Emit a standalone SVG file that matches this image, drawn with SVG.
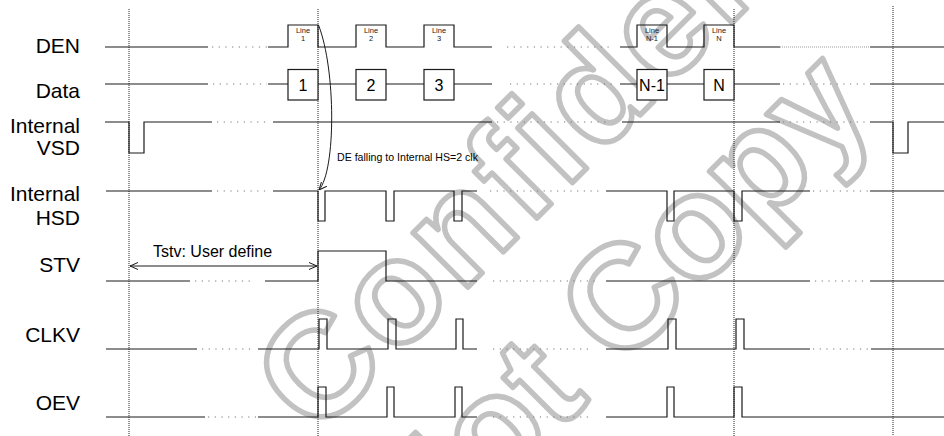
<svg xmlns="http://www.w3.org/2000/svg" width="944" height="436" viewBox="0 0 944 436">
<style>
.sig{fill:none;stroke:#1a1a1a;stroke-width:1.2}
.dot{fill:none;stroke:#777;stroke-width:1;stroke-dasharray:1.2 5.5}
.ddot{fill:none;stroke:#999;stroke-width:1;stroke-dasharray:1 1}
.vdot{fill:none;stroke:#222;stroke-width:1;stroke-dasharray:1 1}
.box{fill:#fff;stroke:#1a1a1a;stroke-width:1.2}
.lbl{font-family:"Liberation Sans",Arial,sans-serif;font-size:21px;text-anchor:end;fill:#000}
.tiny{font-family:"Liberation Sans",Arial,sans-serif;font-size:7.5px;text-anchor:middle;fill:#222}
.num{font-family:"Liberation Sans",Arial,sans-serif;font-size:16px;text-anchor:middle;fill:#000}
.note{font-family:"Liberation Sans",Arial,sans-serif;fill:#000}
.wm{font-family:"Liberation Sans",Arial,sans-serif;font-weight:bold;font-size:146px;fill:none;stroke:#c2c2c2;stroke-width:5.5;stroke-linejoin:round}
.conn{fill:none;stroke:#1a1a1a;stroke-width:1}
</style>
<defs>
<marker id="open" viewBox="0 0 8 8" refX="8" refY="4" markerWidth="8" markerHeight="8" markerUnits="userSpaceOnUse" orient="auto-start-reverse">
<path d="M0,0.5 L8,4 L0,7.5" fill="none" stroke="#1a1a1a" stroke-width="1"/>
</marker>
</defs>
<rect width="944" height="436" fill="#fff"/>
<g id="watermark">
<text class="wm" letter-spacing="5" transform="translate(316,439) rotate(-45)">Confidential</text>
<text class="wm" transform="translate(419,571) rotate(-45)">Not Copy</text>
</g>
<g id="gridlines">
<path class="vdot" d="M129,9V436 M318,9V436 M734,9V436 M893,6V436"/>
</g>
<g id="DEN">
<text class="lbl" x="80" y="53">DEN</text>
<path class="sig" d="M105,47H208 M268,47H288V25H318V47H356V25H386V47H424V25H454V47H492 M620,47H637V25H667V47H704V25H734V47H780 M870,47H944"/>
<path class="dot" d="M212,47H267 M507,47H613"/>
<path class="ddot" d="M780,47H870"/>
<text class="tiny" x="303" y="33">Line</text><text class="tiny" x="303" y="41">1</text>
<text class="tiny" x="371" y="33">Line</text><text class="tiny" x="371" y="41">2</text>
<text class="tiny" x="439" y="33">Line</text><text class="tiny" x="439" y="41">3</text>
<text class="tiny" x="652" y="33">Line</text><text class="tiny" x="652" y="41">N-1</text>
<text class="tiny" x="719" y="33">Line</text><text class="tiny" x="719" y="41">N</text>
</g>
<g id="Data">
<text class="lbl" x="80" y="98">Data</text>
<path class="sig" d="M105,84H208 M268,84H288 M318,84H356 M386,84H424 M454,84H492 M620,84H637 M667,84H704 M734,84H780 M870,84H944"/>
<path class="dot" d="M213,84H267 M510,84H613 M783,84H867"/>
<rect class="box" x="288" y="69.5" width="30" height="30.5"/>
<rect class="box" x="356" y="69.5" width="30" height="30.5"/>
<rect class="box" x="424" y="69.5" width="30" height="30.5"/>
<rect class="box" x="637" y="69.5" width="30" height="30.5"/>
<rect class="box" x="704" y="69.5" width="30" height="30.5"/>
<text class="num" x="303" y="90.5">1</text>
<text class="num" x="371" y="90.5">2</text>
<text class="num" x="439" y="90.5">3</text>
<text class="num" x="652" y="90.5">N-1</text>
<text class="num" x="719" y="90.5">N</text>
</g>
<g id="InternalVSD">
<text class="lbl" x="80" y="133">Internal</text>
<text class="lbl" x="80" y="155">VSD</text>
<path class="sig" d="M105,122H129V153H144V122H212 M273,122H492 M622,122H780 M870,122H893V153H908V122H944"/>
<path class="dot" d="M217,122H268 M497,122H607 M783,122H867"/>
</g>
<g id="InternalHSD">
<text class="lbl" x="80" y="201">Internal</text>
<text class="lbl" x="80" y="225">HSD</text>
<path class="sig" d="M106,191H212 M273,191H318V221H325V191H386V221H394V191H454V221H462V191H477 M606,191H667V221H674V191H734V221H742V191H810 M870,191H944"/>
<path class="dot" d="M217,191H270 M490,191H600 M813,191H868"/>
</g>
<g id="STV">
<text class="lbl" x="80" y="272">STV</text>
<path class="sig" d="M106,281H190 M265,281H318V251H386V281H477 M606,281H810 M870,281H944"/>
<path class="dot" d="M195,281H250 M493,281H600 M815,281H868"/>
</g>
<g id="CLKV">
<text class="lbl" x="80" y="342">CLKV</text>
<path class="sig" d="M106,349H197 M258,349H319V319H327V349H388V319H396V349H456V319H463V349H477 M606,349H668V319H676V349H736V319H744V349H810 M871,349H944"/>
<path class="dot" d="M202,349H255 M493,349H593 M813,349H868"/>
</g>
<g id="OEV">
<text class="lbl" x="80" y="410">OEV</text>
<path class="sig" d="M106,417H205 M258,417H318V387H326V417H387V387H394V417H455V387H462V417H477 M606,417H667V387H674V417H734V387H742V417H944"/>
<path class="dot" d="M208,417H256 M493,417H593"/>
</g>
<g id="connectors">
<path class="conn" d="M130,266H317" marker-start="url(#open)" marker-end="url(#open)"/>
<text class="note" x="153" y="257" font-size="16">Tstv: User define</text>
<path class="conn" stroke-width="0.8" d="M318.5,25 C336,70 336,170 319,190" marker-end="url(#open)"/>
<text class="note" x="337" y="161" font-size="10.6">DE falling to Internal HS=2 clk</text>
</g>
</svg>
